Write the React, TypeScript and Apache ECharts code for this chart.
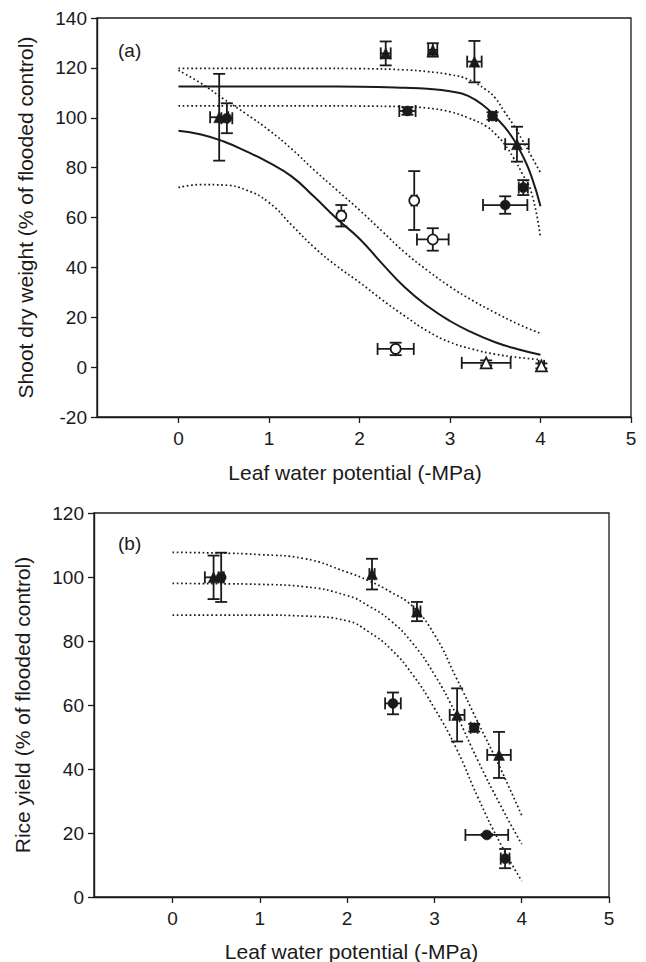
import React, { useEffect, useRef } from 'react';
import * as echarts from 'echarts';

// ---------- tick values ----------
const xTickValues = [0, 1, 2, 3, 4, 5];

// ---------- Panel (a) points: [x, y, xErr, yErr] ----------
const aFilledTriangles = [
  [0.45, 100.2, 0.1, 17.4],
  [2.29, 125.8, 0.055, 4.8],
  [2.81, 127.2, 0.05, 2.7],
  [3.27, 122.5, 0.08, 8.3],
  [3.74, 89.4, 0.13, 7.0],
];
const aFilledCircles = [
  [0.535, 99.8, 0.06, 6.0],
  [2.53, 102.7, 0.09, 1.5],
  [3.47, 100.7, 0.04, 1.5],
  [3.81, 72.0, 0.05, 3.0],
  [3.61, 65.0, 0.245, 3.5],
];
const aOpenCircles = [
  [1.8, 60.7, 0.03, 4.3],
  [2.605, 66.8, 0.03, 11.8],
  [2.81, 51.2, 0.175, 4.5],
  [2.4, 7.3, 0.2, 2.5],
];
const aOpenTriangles = [
  [3.4, 1.7, 0.27, 1.0],
  [4.01, 0.5, 0.03, 1.0],
];

// ---------- Panel (a) fitted curves ----------
const aUpperX = [0, 0.5, 1, 1.5, 2, 2.5, 2.75, 3.0, 3.2, 3.4, 3.5, 3.6, 3.7, 3.8, 3.9, 4.0];
const aUpperFit = [112.5, 112.5, 112.5, 112.5, 112.4, 112.0, 111.6, 110.6, 108.8, 104.0, 100.3, 96.4, 91.5, 85.0, 76.5, 64.5];
const aUpperHi = [119.8, 119.8, 119.8, 119.8, 119.7, 119.2, 118.5, 117.3, 115.4, 111.2, 107.9, 102.5, 97.2, 91.0, 84.5, 78.0];
const aUpperLo = [104.8, 104.8, 104.8, 104.8, 104.7, 104.4, 103.9, 102.4, 100.0, 96.6, 93.5, 89.5, 84.0, 77.5, 70.0, 52.0];

const aLowerX = [0, 0.25, 0.5, 0.75, 1.0, 1.25, 1.5, 1.75, 2.0, 2.25, 2.5, 2.75, 3.0, 3.25, 3.5, 3.75, 4.0];
const aLowerFit = [94.8, 93.3, 90.5, 86.5, 82.0, 76.5, 68.3, 59.5, 51.5, 41.5, 32.0, 24.5, 18.5, 13.8, 10.0, 7.2, 5.0];
const aLowerHi = [119.0, 113.8, 107.5, 101.5, 95.0, 87.5, 79.0, 71.0, 63.0, 54.5, 46.0, 38.8, 32.3, 26.7, 21.8, 17.3, 13.5];
const aLowerLo = [72.0, 73.2, 73.0, 71.0, 66.0, 57.0, 48.0, 40.5, 34.0, 27.0, 20.5, 14.5, 10.0, 7.2, 5.2, 3.9, 3.0];

// ---------- Panel (b) points: [x, y, xErr, yErr] ----------
const bFilledTriangles = [
  [0.47, 99.9, 0.1, 6.8],
  [2.285, 100.9, 0.03, 4.8],
  [2.8, 89.2, 0.04, 3.0],
  [3.26, 56.9, 0.085, 8.3],
  [3.74, 44.4, 0.135, 7.2],
];
const bFilledCircles = [
  [0.557, 99.9, 0.03, 7.7],
  [2.525, 60.5, 0.09, 3.4],
  [3.455, 52.9, 0.04, 1.2],
  [3.6, 19.4, 0.245, 0.3],
  [3.81, 12.0, 0.05, 3.0],
];

// ---------- Panel (b) fitted curves ----------
const bX = [0, 0.5, 1, 1.5, 2, 2.25, 2.5, 2.75, 3.0, 3.25, 3.5, 3.75, 4.0];
const bHi = [107.7, 107.5, 107.0, 105.8, 101.5, 98.8, 95.3, 90.8, 82.0, 68.5, 54.5, 40.5, 25.5];
const bFit = [98.0, 97.9, 97.7, 97.0, 94.2, 90.9, 86.3, 79.3, 69.5, 57.0, 42.5, 29.0, 16.5];
const bLo = [88.1, 88.1, 88.1, 87.8, 86.3, 82.8, 77.5, 69.5, 59.0, 46.5, 31.0, 17.0, 5.0];

const INK = '#1a1a1a';
const FONT = '"Liberation Sans", Arial, Helvetica, sans-serif';

function pairs(xs: number[], ys: number[]) {
  return xs.map((x, i) => [x, ys[i]]);
}

function errorBarRender(params: any, api: any) {
  const x = api.value(0);
  const y = api.value(1);
  const ex = api.value(2);
  const ey = api.value(3);
  const c = api.coord([x, y]);
  const top = api.coord([x, y + ey]);
  const bot = api.coord([x, y - ey]);
  const left = api.coord([x - ex, y]);
  const right = api.coord([x + ex, y]);
  const cap = 6;
  const style = { stroke: INK, lineWidth: 1.8, fill: 'none' };
  const ln = (x1: number, y1: number, x2: number, y2: number) => ({
    type: 'line',
    shape: { x1, y1, x2, y2 },
    style,
  });
  return {
    type: 'group',
    children: [
      ln(c[0], top[1], c[0], bot[1]),
      ln(c[0] - cap, top[1], c[0] + cap, top[1]),
      ln(c[0] - cap, bot[1], c[0] + cap, bot[1]),
      ln(left[0], c[1], right[0], c[1]),
      ln(left[0], c[1] - cap, left[0], c[1] + cap),
      ln(right[0], c[1] - cap, right[0], c[1] + cap),
    ],
  };
}

function errSeries(data: number[][], idx: number) {
  return {
    type: 'custom',
    xAxisIndex: idx,
    yAxisIndex: idx,
    renderItem: errorBarRender,
    data,
    encode: { x: 0, y: 1 },
    z: 3,
    silent: true,
  };
}

function markSeries(data: number[][], idx: number, symbol: string, open: boolean, size: number) {
  return {
    type: 'scatter',
    xAxisIndex: idx,
    yAxisIndex: idx,
    symbol,
    symbolSize: size,
    data: data.map((d) => [d[0], d[1]]),
    itemStyle: open
      ? { color: '#ffffff', borderColor: INK, borderWidth: 1.7, opacity: 1 }
      : { color: INK, borderColor: INK, borderWidth: 0.5, opacity: 1 },
    z: 5,
    silent: true,
  };
}

function lineSeries(xs: number[], ys: number[], idx: number, dotted: boolean) {
  return {
    type: 'line',
    xAxisIndex: idx,
    yAxisIndex: idx,
    data: pairs(xs, ys),
    showSymbol: false,
    symbol: 'none',
    smooth: 0.5,
    lineStyle: dotted
      ? { color: INK, width: 1.7, type: [1.7, 2.6] }
      : { color: INK, width: 2 },
    z: 2,
    silent: true,
  };
}

function xAxisFor(idx: number) {
  return {
    gridIndex: idx,
    type: 'value',
    min: -0.9,
    max: 5,
    name: 'Leaf water potential (-MPa)',
    nameLocation: 'middle',
    nameGap: idx === 0 ? 45 : 44,
    nameTextStyle: {
      fontFamily: FONT,
      fontSize: 21,
      color: INK,
      padding: idx === 0 ? [0, 18, 0, 0] : [0, 0, 0, 0],
    },
    axisLine: { show: true, onZero: false, lineStyle: { color: INK, width: 1.4 } },
    axisTick: { show: true, inside: false, length: 6, customValues: xTickValues, lineStyle: { color: INK, width: 1.3 } },
    axisLabel: { customValues: xTickValues, fontFamily: FONT, fontSize: 19, color: INK, margin: 12 },
    splitLine: { show: false },
  };
}

function yAxisFor(idx: number, min: number, max: number, name: string) {
  return {
    gridIndex: idx,
    type: 'value',
    min,
    max,
    interval: 20,
    name,
    nameLocation: 'middle',
    nameGap: 61,
    nameTextStyle: { fontFamily: FONT, fontSize: 21, color: INK },
    axisLine: { show: true, onZero: false, lineStyle: { color: INK, width: 1.4 } },
    axisTick: { show: true, inside: false, length: 6, lineStyle: { color: INK, width: 1.3 } },
    axisLabel: { fontFamily: FONT, fontSize: 19, color: INK, margin: 10 },
    splitLine: { show: false },
  };
}

export default function App() {
  const ref = useRef<HTMLDivElement>(null);

  useEffect(() => {
    if (!ref.current) return;
    const chart = echarts.init(ref.current, null, { renderer: 'svg' });
    const option: any = {
      animation: false,
      backgroundColor: '#ffffff',
      grid: [
        { left: 97, top: 18, width: 534, height: 399, show: true, borderColor: INK, borderWidth: 1.3, backgroundColor: 'transparent', containLabel: false, outerBoundsMode: 'none' },
        { left: 94, top: 513, width: 515, height: 384, show: true, borderColor: INK, borderWidth: 1.3, backgroundColor: 'transparent', containLabel: false, outerBoundsMode: 'none' },
      ],
      xAxis: [xAxisFor(0), xAxisFor(1)],
      yAxis: [
        yAxisFor(0, -20, 140, 'Shoot dry weight (% of flooded control)'),
        yAxisFor(1, 0, 120, 'Rice yield (% of flooded control)'),
      ],
      graphic: [
        { type: 'text', left: 118, top: 41, style: { text: '(a)', fontFamily: FONT, fontSize: 19, fill: INK } },
        { type: 'text', left: 118, top: 534, style: { text: '(b)', fontFamily: FONT, fontSize: 19, fill: INK } },
      ],
      series: [
        lineSeries(aUpperX, aUpperFit, 0, false),
        lineSeries(aUpperX, aUpperHi, 0, true),
        lineSeries(aUpperX, aUpperLo, 0, true),
        lineSeries(aLowerX, aLowerFit, 0, false),
        lineSeries(aLowerX, aLowerHi, 0, true),
        lineSeries(aLowerX, aLowerLo, 0, true),
        lineSeries(bX, bHi, 1, true),
        lineSeries(bX, bFit, 1, true),
        lineSeries(bX, bLo, 1, true),
        errSeries(aFilledTriangles, 0),
        errSeries(aFilledCircles, 0),
        errSeries(aOpenCircles, 0),
        errSeries(aOpenTriangles, 0),
        errSeries(bFilledTriangles, 1),
        errSeries(bFilledCircles, 1),
        markSeries(aFilledTriangles, 0, 'triangle', false, 11),
        markSeries(aFilledCircles, 0, 'circle', false, 10),
        markSeries(aOpenCircles, 0, 'circle', true, 10),
        markSeries(aOpenTriangles, 0, 'triangle', true, 11),
        markSeries(bFilledTriangles, 1, 'triangle', false, 11),
        markSeries(bFilledCircles, 1, 'circle', false, 10),
      ],
    };
    chart.setOption(option);
    return () => chart.dispose();
  }, []);

  return (
    <div
      ref={ref}
      style={{ position: 'fixed', left: 0, top: 0, width: 646, height: 962, background: '#fff' }}
    />
  );
}
